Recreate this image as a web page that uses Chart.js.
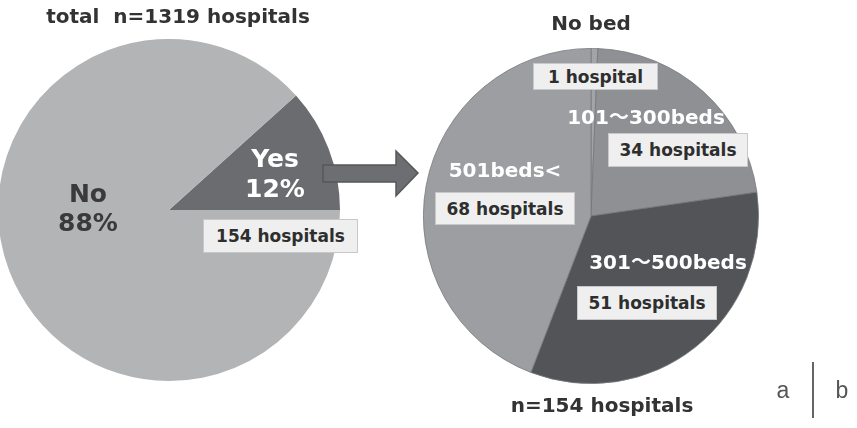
<!DOCTYPE html>
<html>
<head>
<meta charset="utf-8">
<script src="https://cdn.jsdelivr.net/npm/chart.js@4.4.1/dist/chart.umd.min.js"></script>
<style>
  body { margin: 0; background: #fff; width: 857px; height: 428px; overflow: hidden; position: relative;
         font-family: "DejaVu Sans", "Noto Sans CJK JP", sans-serif; font-weight: bold; }
  canvas { position: absolute; }
  .t { position: absolute; transform: translate(-50%, -50%); white-space: nowrap; color: #333; }
  .w { color: #fff; }
  .box { position: absolute; background: #efefef; border: 1px solid #c8c8c8; color: #2e2e2e;
         font-size: 17px; display: flex; align-items: center; justify-content: center; box-sizing: border-box; }
</style>
</head>
<body>
<canvas id="pieA" width="342" height="342" style="left:-2px;top:39px;width:342px;height:342px"></canvas>
<canvas id="pieB" width="336" height="336" style="left:423px;top:48px;width:336px;height:336px"></canvas>

<svg style="position:absolute;left:0;top:0" width="857" height="428">
  <polygon points="323,165 396,165 396,151 418,173 396,196 396,182 323,182" fill="#6d6e72" stroke="#56575b" stroke-width="1.5"/>
  <line x1="813" y1="362" x2="813" y2="418" stroke="#666" stroke-width="2"/>
</svg>

<div class="t" style="left:178px;top:16px;font-size:20px">total&nbsp;&nbsp;n=1319 hospitals</div>
<div class="t" style="left:88px;top:193px;font-size:25px;color:#3a3a3a">No</div>
<div class="t" style="left:88px;top:222px;font-size:25px;color:#3a3a3a">88%</div>
<div class="t w" style="left:275px;top:158px;font-size:25px">Yes</div>
<div class="t w" style="left:275px;top:188px;font-size:25px">12%</div>
<div class="box" style="left:203px;top:219px;width:155px;height:34px">154 hospitals</div>

<div class="t" style="left:591px;top:23px;font-size:20px">No bed</div>
<div class="box" style="left:533px;top:63px;width:125px;height:27px">1 hospital</div>
<div class="t w" style="left:646px;top:115px;font-size:20px">101～300beds</div>
<div class="box" style="left:608px;top:133px;width:140px;height:34px">34 hospitals</div>
<div class="t w" style="left:505px;top:170px;font-size:20px">501beds&lt;</div>
<div class="box" style="left:435px;top:192px;width:140px;height:33px">68 hospitals</div>
<div class="t w" style="left:668px;top:260px;font-size:20px">301～500beds</div>
<div class="box" style="left:577px;top:286px;width:140px;height:34px">51 hospitals</div>
<div class="t" style="left:602px;top:405px;font-size:20px">n=154 hospitals</div>

<div class="t" style="left:783px;top:390px;font-size:23px;font-weight:normal;color:#555;font-family:'Liberation Sans',sans-serif">a</div>
<div class="t" style="left:842px;top:390px;font-size:23px;font-weight:normal;color:#555;font-family:'Liberation Sans',sans-serif">b</div>

<script>
// left pie: all hospitals
const leftLabels = ['Yes', 'No'];
const leftValues = [154, 1165];
const leftColors = ['#6b6c70', '#b3b4b6'];

// right pie: hospitals answering yes, by bed count
const rightLabels = ['No bed', '101～300beds', '301～500beds', '501beds<'];
const rightValues = [1, 34, 51, 68];
const rightColors = ['#a3a4a7', '#8f9093', '#535458', '#9d9ea1'];

const leftTotal = leftValues.reduce((a, b) => a + b, 0);

function pieOpts(rotation) {
  return {
    responsive: false,
    animation: false,
    rotation: rotation,
    layout: { padding: 0 },
    plugins: { legend: { display: false }, tooltip: { enabled: false } }
  };
}

new Chart(document.getElementById('pieA'), {
  type: 'pie',
  data: {
    labels: leftLabels,
    datasets: [{ data: leftValues, backgroundColor: leftColors, borderWidth: 0 }]
  },
  // Yes slice ends at 3 o'clock
  options: pieOpts(90 - leftValues[0] / leftTotal * 360)
});

new Chart(document.getElementById('pieB'), {
  type: 'pie',
  data: {
    labels: rightLabels,
    datasets: [{ data: rightValues, backgroundColor: rightColors, borderWidth: 0.8, borderColor: '#77787b' }]
  },
  options: pieOpts(0)
});
</script>
</body>
</html>
